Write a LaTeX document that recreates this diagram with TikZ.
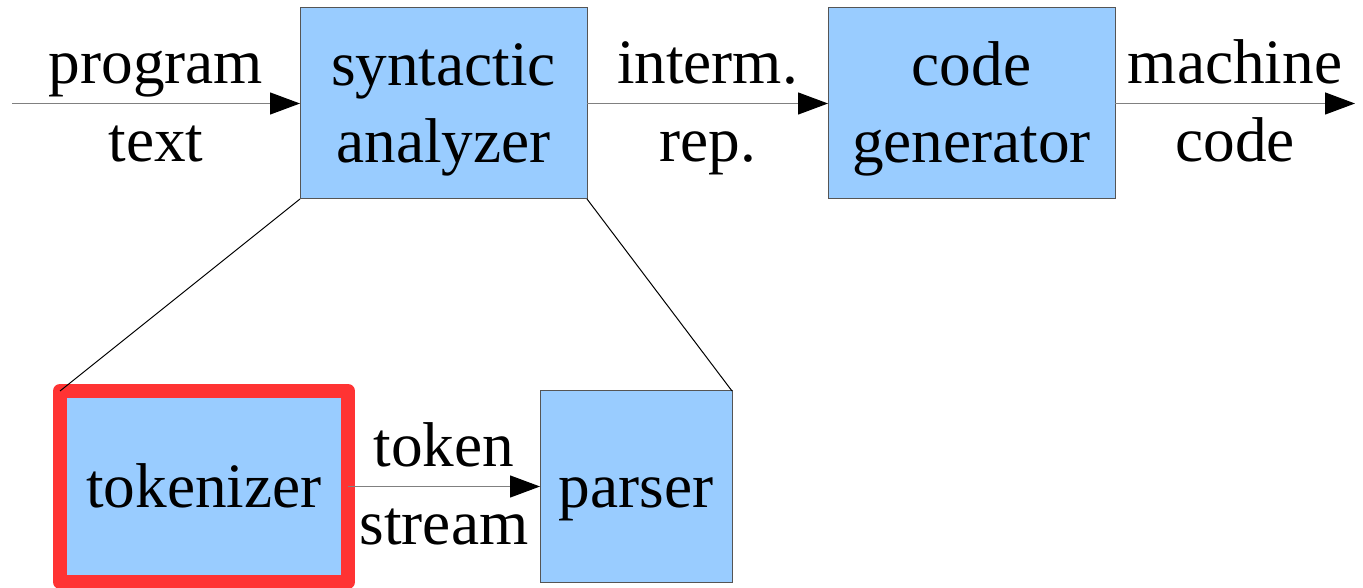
\documentclass[tikz,border=0pt]{standalone}
\usepackage{fontspec}
\setmainfont{Liberation Serif}
\usepackage{tikz}
\usetikzlibrary{arrows.meta, positioning}
\definecolor{caixa}{HTML}{99CCFF}
\definecolor{borda}{HTML}{555555}
\definecolor{linha}{HTML}{808080}
\definecolor{destaque}{HTML}{FF3333}
\newcommand{\tst}{\rule[-0.22em]{0pt}{1.1em}}

\begin{document}
\begin{tikzpicture}[
    font=\fontsize{36}{43.8}\selectfont,
    bloco/.style={draw=borda, line width=0.02cm, fill=caixa, inner sep=0pt, outer sep=0pt,
      align=center, minimum width=5.74cm, minimum height=3.82cm},
    seta/.style={draw=linha, line width=0.026cm,
      -{Triangle[length=0.6cm, width=0.44cm, color=black]}},
    acima/.style={midway, anchor=base, yshift=0.4cm},
    abaixo/.style={midway, anchor=base, yshift=-1.16cm}
  ]
  \useasboundingbox (0,0) rectangle (27.26,-11.76);

  % Primeira linha
  \node[bloco] (sint) at (8.87,-2.07) {\tst syntactic\\\tst analyzer};
  \node[bloco, right=4.82cm of sint] (gerador) {\tst code\\\tst generator};
  \coordinate (entrada) at (0.24,-2.07);
  \coordinate (saida) at (27.1,-2.07);

  \draw[seta] (entrada) -- (sint) node[acima] {program} node[abaixo] {text};
  \draw[seta] (sint) -- (gerador) node[acima] {interm.} node[abaixo] {rep.};
  \draw[seta] (gerador) -- (saida) node[acima] {machine} node[abaixo] {code};

  % Segunda linha
  \node[bloco, draw=destaque, line width=0.28cm, line join=round, minimum width=5.76cm]
    (tok) at (4.08,-9.73) {\tst tokenizer};
  \node[bloco, right=3.84cm of tok, minimum width=3.84cm] (parser) {\tst parser};

  \draw[seta] (tok) -- (parser) node[acima] {token} node[abaixo] {stream};

  % Linhas do detalhe
  \draw[line width=0.02cm] (sint.south west) -- (tok.north west);
  \draw[line width=0.02cm] (sint.south east) -- (parser.north east);
\end{tikzpicture}
\end{document}
